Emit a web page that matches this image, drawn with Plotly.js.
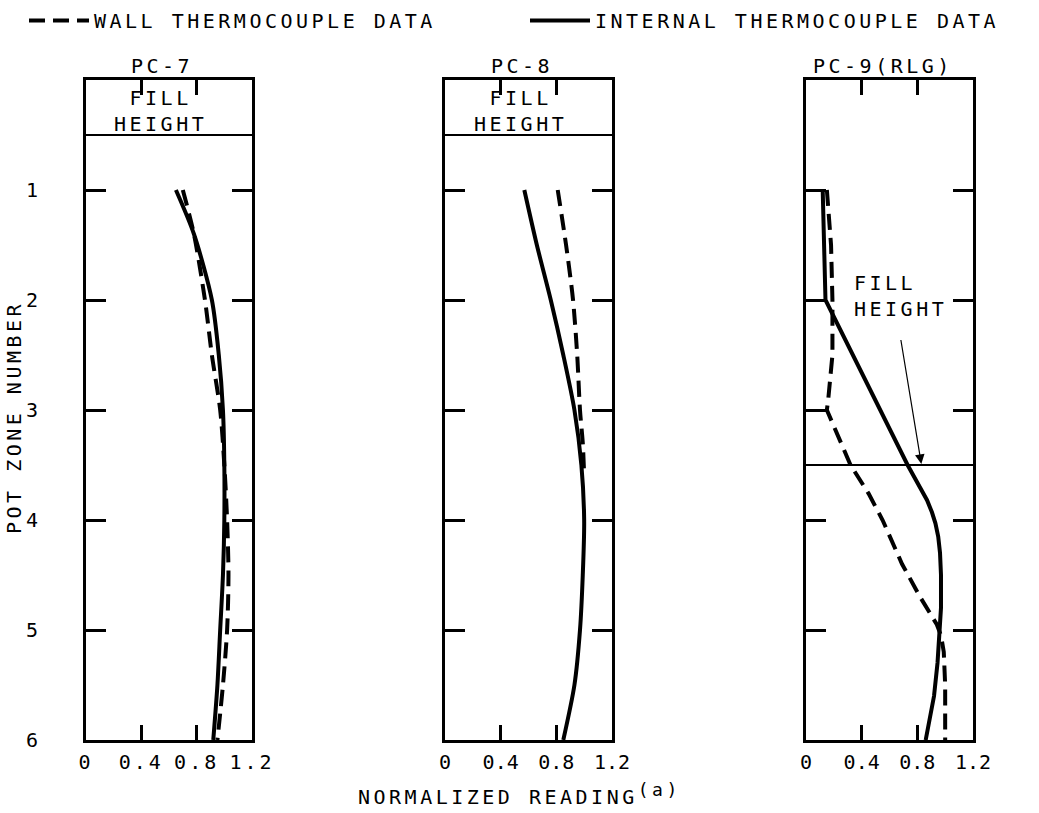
<!DOCTYPE html>
<html>
<head>
<meta charset="utf-8">
<script src="https://cdn.plot.ly/plotly-3.0.1.min.js"></script>
<style>
  html, body { margin: 0; padding: 0; background: #fff; }
  #chart { width: 1039px; height: 813px; }
  .legendtext, .annotation-text { letter-spacing: 3.5px; }
  .xtick text, .ytick text { letter-spacing: 3px; }
</style>
</head>
<body>
<div id="chart"></div>
<script>
// ---- data ----
const panelTitles = ["PC-7", "PC-8", "PC-9(RLG)"];
const seriesNames = ["WALL THERMOCOUPLE DATA", "INTERNAL THERMOCOUPLE DATA"];
const xTickVals = [0, 0.4, 0.8, 1.2];
const xTickText = ["0", "0.4", "0.8", "1.2"];
const yTickVals = [1, 2, 3, 4, 5, 6];
const yTickText = ["1", "2", "3", "4", "5", "6"];

// PC-7
const pc7WallZone = [1, 1.4, 2, 2.5, 3, 3.5, 4, 4.5, 5, 5.5, 6];
const pc7WallRead = [0.70, 0.78, 0.86, 0.91, 0.97, 1.00, 1.02, 1.03, 1.02, 0.99, 0.95];
const pc7IntZone = [1, 1.4, 2, 2.5, 3, 3.5, 4, 4.5, 5, 5.5, 6];
const pc7IntRead = [0.65, 0.78, 0.91, 0.96, 0.99, 1.00, 1.00, 0.99, 0.97, 0.95, 0.92];

// PC-8
const pc8WallZone = [1, 1.5, 2, 2.5, 3, 3.3, 3.6];
const pc8WallRead = [0.81, 0.87, 0.92, 0.95, 0.97, 0.99, 1.00];
const pc8IntZone = [1, 1.5, 2, 2.5, 3, 3.5, 4, 4.5, 5, 5.5, 6];
const pc8IntRead = [0.57, 0.66, 0.76, 0.85, 0.93, 0.98, 1.00, 0.99, 0.97, 0.93, 0.85];

// PC-9(RLG)
const pc9WallZone = [1, 1.5, 2, 2.5, 2.9, 3, 3.5, 3.76, 4.0, 4.2, 4.4, 4.7, 4.85, 4.95, 5.05, 5.2, 5.5, 6];
const pc9WallRead = [0.15, 0.18, 0.19, 0.19, 0.16, 0.15, 0.32, 0.45, 0.55, 0.62, 0.69, 0.82, 0.89, 0.94, 0.97, 0.99, 1.00, 1.00];
const pc9IntZone = [1, 2, 3.5, 3.7, 3.82, 3.93, 4.03, 4.15, 4.3, 4.5, 4.8, 5.0, 5.3, 5.6, 5.8, 6];
const pc9IntRead = [0.12, 0.14, 0.73, 0.82, 0.87, 0.905, 0.93, 0.95, 0.963, 0.97, 0.97, 0.96, 0.945, 0.92, 0.89, 0.86];

const fillHeights = [0.5, 0.5, 3.5];   // fill-height line (pot zone) per panel
const fillLabel = "FILL<br>HEIGHT";
const arrowTail = [0.68, 2.35];        // PC-9 label arrow tail (reading, zone)
const xAxisTitle = "NORMALIZED READING<sup><span style=\"font-size:18px\">(a)</span></sup>";
const yAxisTitle = "POT ZONE NUMBER";

// ---- build ----
const FONT = "DejaVu Sans Mono";
const wallStyle = { color: "#000", width: 4, dash: "16px,8px" };
const intStyle = { color: "#000", width: 4 };

const panels = [
  { wz: pc7WallZone, wr: pc7WallRead, iz: pc7IntZone, ir: pc7IntRead, shape: "spline" },
  { wz: pc8WallZone, wr: pc8WallRead, iz: pc8IntZone, ir: pc8IntRead, shape: "spline" },
  { wz: pc9WallZone, wr: pc9WallRead, iz: pc9IntZone, ir: pc9IntRead, shape: "linear" }
];

const traces = [];
panels.forEach((p, i) => {
  const xa = i === 0 ? "x" : "x" + (i + 1);
  const ya = i === 0 ? "y" : "y" + (i + 1);
  traces.push({
    x: p.wr, y: p.wz, xaxis: xa, yaxis: ya, mode: "lines", type: "scatter",
    name: seriesNames[0], legendgroup: "wall", showlegend: i === 0,
    line: Object.assign({ shape: p.shape, smoothing: 0.8 }, wallStyle), hoverinfo: "skip"
  });
  traces.push({
    x: p.ir, y: p.iz, xaxis: xa, yaxis: ya, mode: "lines", type: "scatter",
    name: seriesNames[1], legendgroup: "int", showlegend: i === 0,
    line: Object.assign({ shape: p.shape, smoothing: 0.8 }, intStyle), hoverinfo: "skip"
  });
});

const W = 1039, H = 813;
const xDomains = [[86 / W, 252 / W], [445 / W, 612 / W], [806 / W, 973 / W]];
const yDomain = [1 - 740 / H, 1 - 80 / H];

const layout = {
  width: W, height: H,
  margin: { l: 0, r: 0, t: 0, b: 0 },
  paper_bgcolor: "#fff", plot_bgcolor: "#fff",
  font: { family: FONT, size: 20, color: "#000" },
  showlegend: true,
  legend: {
    orientation: "h", x: 24 / W, y: 1 - 1 / H, xanchor: "left", yanchor: "top",
    entrywidth: 426, entrywidthmode: "pixels", itemwidth: 60,
    font: { family: FONT, size: 20, color: "#000" }, bgcolor: "rgba(0,0,0,0)"
  },
  shapes: [],
  annotations: []
};

panels.forEach((p, i) => {
  const sfx = i === 0 ? "" : String(i + 1);
  layout["xaxis" + sfx] = {
    domain: xDomains[i], anchor: "y" + sfx, range: [0, 1.2], autorange: false,
    tickvals: xTickVals, ticktext: xTickText, ticks: "inside", ticklen: 15, tickwidth: 3,
    tickcolor: "#000", showline: true, linewidth: 3, linecolor: "#000", mirror: "ticks",
    showgrid: false, zeroline: false, ticklabelstandoff: 2,
    tickfont: { family: FONT, size: 20, color: "#000" }, fixedrange: true
  };
  layout["yaxis" + sfx] = {
    domain: yDomain, anchor: "x" + sfx, range: [6, 0], autorange: false,
    tickvals: yTickVals, ticktext: yTickText, ticks: "inside", ticklen: 20, tickwidth: 3,
    tickcolor: "#000", showline: true, linewidth: 3, linecolor: "#000", mirror: "ticks",
    showgrid: false, zeroline: false, showticklabels: i === 0, ticklabelstandoff: 38,
    tickfont: { family: FONT, size: 20, color: "#000" }, fixedrange: true
  };
  // fill height line
  layout.shapes.push({
    type: "line", xref: "x" + sfx + " domain", yref: "y" + sfx,
    x0: 0, x1: 1, y0: fillHeights[i], y1: fillHeights[i],
    line: { color: "#000", width: 2 }
  });
  // panel title
  layout.annotations.push({
    text: panelTitles[i], xref: "x" + sfx + " domain", yref: "paper",
    x: 0.46, y: yDomain[1], yshift: 0, xanchor: "center", yanchor: "bottom",
    showarrow: false, font: { family: FONT, size: 20, color: "#000" }
  });
});

// FILL HEIGHT labels in top band of PC-7 and PC-8
["", "2"].forEach(sfx => {
  layout.annotations.push({
    text: fillLabel, xref: "x" + sfx, yref: "y" + sfx, x: 0.54, y: 0.28,
    xanchor: "center", yanchor: "middle", showarrow: false, align: "center",
    font: { family: FONT, size: 20, color: "#000" }
  });
});

// PC-9 label with arrow to fill-height line
layout.annotations.push({
  text: fillLabel, xref: "x3", yref: "y3", x: 0.33, y: 1.96,
  xanchor: "left", yanchor: "middle", showarrow: false, align: "left",
  font: { family: FONT, size: 20, color: "#000" }
});
layout.annotations.push({
  text: "", xref: "x3", yref: "y3", x: 0.83, y: fillHeights[2],
  axref: "x3", ayref: "y3", ax: arrowTail[0], ay: arrowTail[1],
  showarrow: true, arrowhead: 2, arrowsize: 1.6, arrowwidth: 1.2, arrowcolor: "#000", standoff: 1
});

// axis titles
layout.annotations.push({
  text: xAxisTitle, xref: "paper", yref: "paper", x: 519 / W, y: 1 - 794 / H,
  xanchor: "center", yanchor: "middle", showarrow: false,
  font: { family: FONT, size: 20, color: "#000" }
});
layout.annotations.push({
  text: yAxisTitle, xref: "paper", yref: "paper", x: 14 / W, y: 1 - 418 / H,
  xanchor: "center", yanchor: "middle", textangle: -90, showarrow: false,
  font: { family: FONT, size: 20, color: "#000" }
});

Plotly.newPlot("chart", traces, layout, { displayModeBar: false, staticPlot: true });
</script>
</body>
</html>
